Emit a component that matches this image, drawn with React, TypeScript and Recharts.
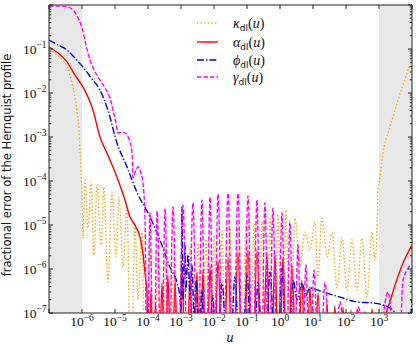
import { LineChart, Line, XAxis, YAxis, ReferenceArea } from 'recharts';

type Pt = [number, number];

// axis ticks (decades)
const X_MAJOR = [1e-7, 1e-6, 1e-5, 1e-4, 1e-3, 1e-2, 1e-1, 1, 10, 100, 1000, 10000];
const X_LABEL_EXP = [-6, -5, -4, -3, -2, -1, 0, 1, 2, 3];
const Y_MAJOR = [1e-7, 1e-6, 1e-5, 1e-4, 1e-3, 1e-2, 1e-1, 1];
const Y_LABEL_EXP = [-7, -6, -5, -4, -3, -2, -1];
const MINOR_SUBS = [2, 3, 4, 5, 6, 7, 8, 9];
const SHADED: Pt[] = [[1e-7, 1e-6], [1e3, 1e4]];

// kappa_dl(u)
const KAPPA: Pt[] = [
  [1e-7, 0.095], [1.9e-7, 0.069], [3.5e-7, 0.039], [5.3e-7, 0.0137], [7.0e-7, 4.1e-3],
  [8.1e-7, 1.44e-3], [8.7e-7, 5.1e-4], [9.3e-7, 1.78e-4], [1.0e-6, 4.8e-5], [1.07e-6, 5e-6],
  [1.23e-6, 1.05e-4], [1.52e-6, 8.6e-6], [1.9e-6, 9.5e-5], [2.3e-6, 2.1e-6], [2.85e-6, 8.1e-5],
  [3.8e-6, 3.5e-6], [4.6e-6, 7.3e-5], [6.1e-6, 5.1e-7], [8.1e-6, 5.6e-5], [1.07e-5, 1.87e-6],
  [1.32e-5, 4.3e-5], [1.75e-5, 1.11e-6], [2.3e-5, 2.6e-5], [3.05e-5, 1e-9], [4.0e-5, 1e-5],
  [5.0e-5, 2.0e-7], [6.6e-5, 6.9e-6], [8.1e-5, 1e-9],
  [1.15e-4, 3.0e-6], [1.52e-4, 1e-9], [2.0e-4, 1.97e-6], [2.65e-4, 1e-9],
  [3.5e-4, 1.78e-6], [4.6e-4, 1e-9], [6.1e-4, 1.97e-6], [8.1e-4, 1e-9],
  [1.07e-3, 2.4e-6], [1.4e-3, 1e-9], [1.9e-3, 3.2e-6], [2.5e-3, 1e-9],
  [3.3e-3, 3.9e-6], [4.3e-3, 1e-9], [5.7e-3, 4.8e-6], [7.6e-3, 1e-9],
  [1e-2, 5.9e-6], [1.32e-2, 1e-9], [1.75e-2, 7.3e-6], [2.3e-2, 1e-9],
  [3.05e-2, 8.6e-6], [4.0e-2, 1e-9], [5.3e-2, 9.5e-6], [7.0e-2, 1e-9],
  [9.3e-2, 1e-5], [0.123, 1e-9], [0.163, 1.05e-5], [0.215, 1e-9],
  [0.285, 1.17e-5], [0.377, 1e-9], [0.5, 1.37e-5], [0.66, 1e-9],
  [0.87, 1.78e-5], [1.15, 1e-9], [1.52, 2.2e-5], [2.0, 1e-9],
  [2.85, 1.44e-5], [4.0, 1.23e-6], [5.7, 6.9e-6], [8.1, 2.7e-6], [11.5, 1.17e-5],
  [14.2, 6.6e-7], [18.7, 1.44e-5], [26.5, 1.87e-6], [37.7, 6.6e-6], [53, 3.7e-7],
  [76, 5.1e-6], [107, 3.3e-7], [152, 4.6e-6], [215, 3.3e-7], [305, 5.1e-6],
  [433, 2.3e-7], [614, 6.9e-6], [757, 1.6e-6], [869, 7.7e-6], [933, 6.2e-5],
  [1072, 1.23e-4], [1321, 4.3e-4], [1873, 1.23e-3], [2656, 2.85e-3], [3765, 6.9e-3],
  [5728, 0.0178], [7565, 0.033], [1e4, 0.051],
];

// alpha_dl(u)
const ALPHA: Pt[] = [
  [1e-7, 0.111], [1.9e-7, 0.081], [3.5e-7, 0.051], [6.1e-7, 0.0257], [1.07e-6, 0.0137],
  [2.15e-6, 4.1e-3], [3.5e-6, 1e-3], [5.7e-6, 4.3e-4], [1e-5, 1.6e-4], [1.4e-5, 8.1e-5],
  [2.0e-5, 3.7e-5], [2.85e-5, 1.52e-5], [4.0e-5, 1e-5], [5.7e-5, 5.3e-6], [7.0e-5, 2.3e-6],
  [8.1e-5, 8.1e-7], [9.3e-5, 2.85e-7], [1e-4, 1e-9],
  [1.23e-4, 3.3e-7], [1.4e-4, 1e-9], [1.69e-4, 1.78e-7], [2.1e-4, 1e-9],
  [2.65e-4, 4.8e-7], [3.3e-4, 1e-9], [4.0e-4, 7.3e-7], [5.2e-4, 1e-9],
  [6.6e-4, 5.3e-7], [8.4e-4, 1e-9], [1.07e-3, 9.5e-7], [1.4e-3, 1e-9],
  [1.9e-3, 6.6e-7], [2.4e-3, 1e-9], [3.05e-3, 8.6e-7], [3.8e-3, 1e-9],
  [4.6e-3, 9.5e-7], [5.9e-3, 1e-9], [7.6e-3, 1.17e-6], [1e-2, 1e-9],
  [1.32e-2, 1.6e-6], [1.87e-2, 1e-9], [2.65e-2, 1.87e-6], [3.8e-2, 1e-9],
  [5.3e-2, 2.4e-6], [7.6e-2, 1e-9], [0.107, 2.7e-6], [0.147, 1e-9],
  [0.2, 2.7e-6], [0.285, 1e-9], [0.4, 2.4e-6], [0.53, 1e-9],
  [0.7, 2.3e-6], [0.93, 1e-9], [1.23, 1.87e-6], [1.69, 1e-9],
  [2.3, 1.23e-6], [3.3, 1e-9], [4.6, 5.6e-7], [6.1, 1e-9],
  [8.1, 3.9e-7], [10.7, 1e-9], [14.2, 2.85e-7], [19.4, 1e-9],
  [26.5, 1.69e-7], [35, 1e-9], [46, 1.45e-7], [61, 1e-9],
  [81, 1.37e-7], [107, 1e-9], [142, 1.17e-7], [181, 1e-9],
  [231, 1.23e-7], [295, 1e-9], [377, 1.1e-7], [481, 1e-9],
  [614, 1.23e-7], [1000, 1e-9],
  [1630, 9e-8], [2154, 1.8e-7], [3054, 4.3e-7], [4977, 1.2e-6], [1e4, 3.5e-6],
];

// phi_dl(u)
const PHI: Pt[] = [
  [1e-7, 0.16], [1.9e-7, 0.123], [3.5e-7, 0.095], [6.1e-7, 0.062], [1.07e-6, 0.039],
  [1.9e-6, 0.022], [3.5e-6, 0.0117], [6.1e-6, 4.1e-3], [1.15e-5, 7.3e-4], [2.3e-5, 2.1e-4],
  [4.6e-5, 5.6e-5], [1.15e-4, 1.52e-5], [2.3e-4, 4.6e-6], [4.6e-4, 1.11e-6], [7.6e-4, 4.8e-7],
  [9.3e-4, 2.3e-7], [1e-3, 1.17e-7], [1.07e-3, 2.6e-5], [1.15e-3, 2e-7], [1.32e-3, 3.5e-6],
  [1.4e-3, 3.3e-7], [1.63e-3, 2.1e-6], [1.9e-3, 2e-7], [2.15e-3, 1.23e-6], [2.5e-3, 7e-8],
  [2.85e-3, 5.6e-7], [3.5e-3, 4e-8], [4.3e-3, 3.3e-7], [5.7e-3, 1e-9],
  [9.3e-3, 2.5e-7], [1.23e-2, 1e-9], [1.75e-2, 4.8e-7], [2.85e-2, 1e-9],
  [4.3e-2, 6.6e-7], [6.6e-2, 1e-9], [0.1, 7.3e-7], [0.152, 1e-9],
  [0.215, 5.1e-7], [0.33, 1e-9], [0.5, 8.6e-7], [0.76, 1e-9],
  [1.15, 1.05e-6], [1.63, 1e-9], [2.5, 5.6e-7], [3.3, 2e-7],
  [4.6, 4.8e-7], [6.1, 2.5e-7], [8.1, 3.7e-7], [20, 3.0e-7],
  [66, 2.3e-7], [215, 1.78e-7], [658, 1.69e-7], [1321, 1.52e-7],
  [2154, 1.3e-7], [3054, 1e-7], [4329, 1e-9], [1e4, 2e-7],
];

// gamma_dl(u)
const GAMMA: Pt[] = [
  [1e-7, 0.95], [2.2e-7, 0.95], [3.8e-7, 0.9], [5.7e-7, 0.73], [7.6e-7, 0.51],
  [1e-6, 0.3], [1.32e-6, 0.123], [1.75e-6, 0.056], [2.5e-6, 0.03], [3.5e-6, 0.0197],
  [5e-6, 0.013], [7e-6, 7.7e-3], [8.7e-6, 4.1e-3], [1.07e-5, 2.1e-3], [1.23e-5, 1.23e-3],
  [1.63e-5, 1.3e-3], [2.0e-5, 1.23e-3], [2.5e-5, 1e-3], [3.3e-5, 4.3e-4], [3.5e-5, 1.17e-4],
  [4.0e-5, 1.52e-4], [5.0e-5, 2.1e-4], [5.7e-5, 1.78e-4], [7.0e-5, 9.0e-5], [8.1e-5, 1.52e-5],
  [9.3e-5, 1e-9],
  [1.15e-4, 1.87e-5], [1.47e-4, 1e-9], [1.9e-4, 2.1e-5], [2.5e-4, 1e-9],
  [3.3e-4, 2.4e-5], [4.3e-4, 1e-9], [5.7e-4, 2.6e-5], [8.1e-4, 1e-9],
  [1.15e-3, 2.85e-5], [1.63e-3, 1e-9], [2.3e-3, 3.2e-5], [3.2e-3, 1e-9],
  [4.3e-3, 3.7e-5], [5.7e-3, 1e-9], [7.6e-3, 4.3e-5], [1e-2, 1e-9],
  [1.32e-2, 5.1e-5], [1.87e-2, 1e-9], [2.65e-2, 5.3e-5], [3.8e-2, 1e-9],
  [5.3e-2, 5.3e-5], [7.6e-2, 1e-9], [0.107, 4.6e-5], [0.147, 1e-9],
  [0.2, 3.7e-5], [0.265, 1e-9], [0.35, 3.2e-5], [0.46, 1e-9],
  [0.61, 2.4e-5], [0.84, 1e-9], [1.15, 1.87e-5], [1.52, 1e-9],
  [2.0, 1.17e-5], [2.65, 1e-9], [3.5, 3.5e-6], [4.6, 1e-9],
  [6.1, 1.23e-6], [8.1, 1e-9], [10.7, 9.5e-7], [15.7, 1e-9],
  [23, 4.8e-7], [39, 1e-9], [66, 1.78e-7], [123, 1e-9],
  [231, 1.37e-7], [658, 1e-9], [1873, 3.0e-7], [3765, 1e-9],
  [5337, 5.6e-7], [1e4, 1.3e-6],
];

const SERIES = [
  { name: 'κ', data: KAPPA, color: '#ffa500', dash: '1.4 2.2' },
  { name: 'α', data: ALPHA, color: '#ff0000', dash: undefined },
  { name: 'ϕ', data: PHI, color: '#0000cd', dash: '7 2 1.4 2' },
  { name: 'γ', data: GAMMA, color: '#ff00ff', dash: '4.5 2' },
];

const W = 416;
const H = 349;
const PLOT = { left: 49, right: 412, top: 5, bottom: 313 };
const AXIS = '#222';
const TICK_FONT = '"Liberation Serif", "DejaVu Serif", serif';

const Y_MINOR = Y_MAJOR.slice(0, -1).flatMap((d) => MINOR_SUBS.map((k) => k * d));
const Y_TICKS = [...Y_MAJOR, ...Y_MINOR].sort((a, b) => a - b);

const toRows = (pts: Pt[]) => pts.map(([u, v]) => ({ u, v }));

function expLabel(e: number, x: number, y: number, anchor: 'middle' | 'end') {
  return (
    <text x={x} y={y} textAnchor={anchor} fontFamily={TICK_FONT} fontSize={13.5} fill="#111">
      <tspan>10</tspan>
      <tspan dy={-5.5} fontSize={9.5}>{e < 0 ? `\u2212${-e}` : `${e}`}</tspan>
    </text>
  );
}

function XTick(props: any) {
  const { x, payload } = props;
  const e = Math.round(Math.log10(payload.value));
  return (
    <g>
      <line x1={x} x2={x} y1={PLOT.bottom} y2={PLOT.bottom - 4} stroke={AXIS} />
      <line x1={x} x2={x} y1={PLOT.top} y2={PLOT.top + 4} stroke={AXIS} />
      {X_LABEL_EXP.includes(e) && expLabel(e, x, 326, 'middle')}
    </g>
  );
}

function YTick(props: any) {
  const { y, payload } = props;
  const lg = Math.log10(payload.value);
  const e = Math.round(lg);
  const major = Math.abs(lg - e) < 1e-6;
  const len = major ? 4 : 2.2;
  return (
    <g>
      <line x1={PLOT.left} x2={PLOT.left + len} y1={y} y2={y} stroke={AXIS} />
      <line x1={PLOT.right} x2={PLOT.right - len} y1={y} y2={y} stroke={AXIS} />
      {major && Y_LABEL_EXP.includes(e) && expLabel(e, 46.5, y + 4.5, 'end')}
    </g>
  );
}

function LegendOverlay() {
  const rows = [23, 42, 60, 77];
  return (
    <svg width={W} height={H} style={{ position: 'absolute', left: 0, top: 0, pointerEvents: 'none' }}>
      {SERIES.map((s, i) => (
        <g key={s.name}>
          <line x1={197} x2={218} y1={rows[i]} y2={rows[i]} stroke={s.color} strokeWidth={1.4} strokeDasharray={s.dash} />
          <text x={233} y={rows[i] + 5} fontFamily={TICK_FONT} fontSize={14} fill="#111">
            <tspan fontStyle="italic">{s.name}</tspan>
            <tspan fontFamily="DejaVu Sans" fontSize={9} dy={3}>dl</tspan>
            <tspan dy={-3}>(</tspan>
            <tspan fontStyle="italic">u</tspan>
            <tspan>)</tspan>
          </text>
        </g>
      ))}
      <text x={230} y={342} textAnchor="middle" fontFamily={TICK_FONT} fontStyle="italic" fontSize={14} fill="#111">u</text>
      <text
        x={11}
        y={165}
        transform="rotate(-90 11 165)"
        textAnchor="middle"
        fontFamily="DejaVu Sans"
        fontSize={11.5}
        fill="#111"
      >
        fractional error of the Hernquist profile
      </text>
    </svg>
  );
}

export default function App() {
  return (
    <div style={{ position: 'relative', width: W, height: H, background: '#fff' }}>
      <style>{'body{margin:0}'}</style>
      <LineChart width={W} height={H} margin={{ top: 5, right: 4, bottom: 0, left: 0 }}>
        {SHADED.map(([a, b], i) => (
          <ReferenceArea key={i} x1={a} x2={b} y1={1e-7} y2={1} fill="#e8e8e8" fillOpacity={1} stroke="none" />
        ))}
        <XAxis
          dataKey="u"
          type="number"
          scale="log"
          domain={[1e-7, 1e4]}
          allowDataOverflow
          ticks={X_MAJOR}
          interval={0}
          tick={XTick}
          tickLine={false}
          axisLine={false}
          height={36}
        />
        <YAxis
          type="number"
          scale="log"
          domain={[1e-7, 1]}
          allowDataOverflow
          ticks={Y_TICKS}
          interval={0}
          tick={YTick}
          tickLine={false}
          axisLine={false}
          width={49}
        />
        {SERIES.map((s) => (
          <Line
            key={s.name}
            data={toRows(s.data)}
            dataKey="v"
            type="monotone"
            stroke={s.color}
            strokeWidth={1.4}
            strokeDasharray={s.dash}
            dot={false}
            activeDot={false}
            isAnimationActive={false}
          />
        ))}
        <ReferenceArea x1={1e-7} x2={1e4} y1={1e-7} y2={1} fill="none" stroke={AXIS} strokeWidth={1} />
      </LineChart>
      <LegendOverlay />
    </div>
  );
}
